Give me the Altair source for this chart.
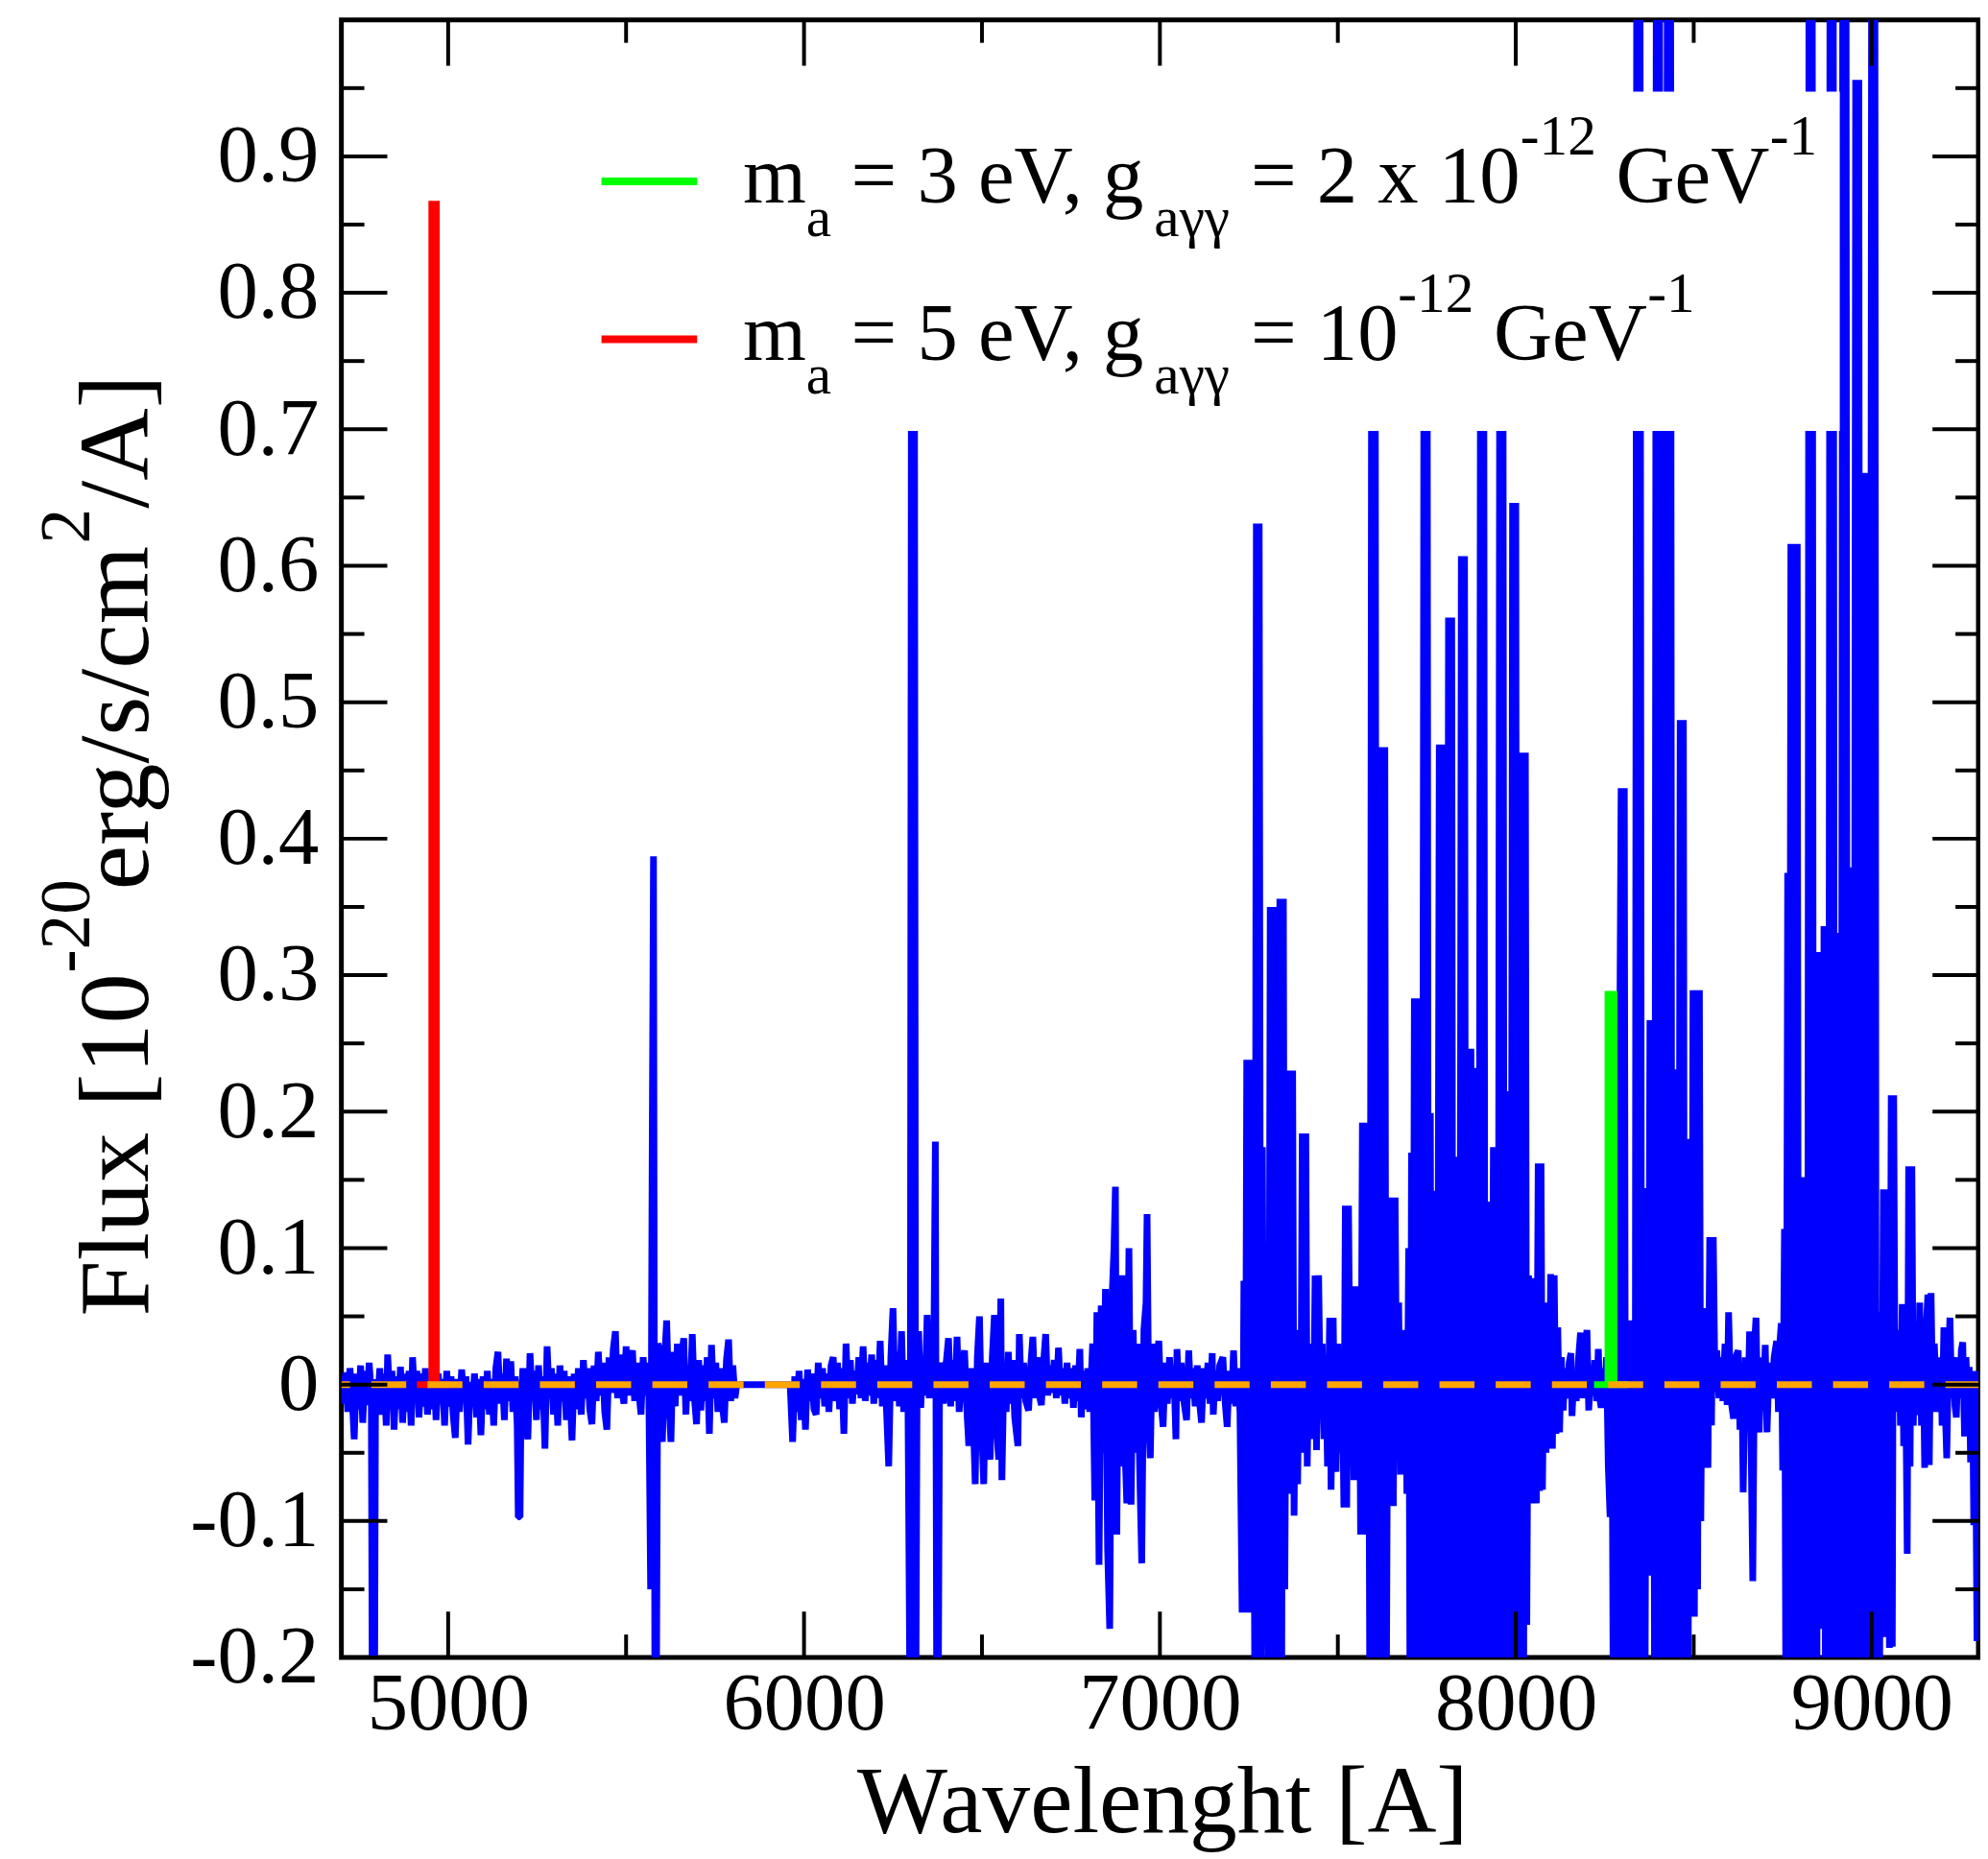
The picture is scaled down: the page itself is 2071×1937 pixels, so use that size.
import altair as alt
import pandas as pd

FONT = "Liberation Serif"

# ---------------- data ----------------
# blue spectrum, (wavelength [A], flux)
seg_a = [
    (4700, 0.006), (4706, -0.014), (4712, 0.009), (4718, -0.020), (4724, 0.012), (4730, -0.008),
    (4736, -0.040), (4742, 0.008), (4748, -0.018), (4754, 0.014), (4760, -0.028), (4766, 0.010),
    (4772, -0.015), (4778, 0.016), (4784, -0.006), (4787, -0.25), (4793, -0.25), (4796, 0.004),
    (4802, -0.012), (4808, 0.012), (4814, -0.022), (4820, 0.008), (4826, -0.030), (4830, 0.022),
    (4836, -0.010), (4842, 0.010), (4848, -0.033), (4854, 0.006), (4860, -0.018), (4866, 0.013),
    (4872, -0.028), (4878, 0.008), (4884, -0.020), (4890, 0.010), (4896, -0.030), (4900, 0.020),
    (4906, -0.012), (4912, 0.010), (4918, -0.024), (4924, 0.008), (4930, -0.016), (4936, 0.012),
    (4942, -0.022), (4948, 0.006), (4954, -0.018), (4960, 0.010), (4966, -0.026), (4972, 0.008),
    (4978, -0.014), (4984, 0.004), (4990, -0.030), (4996, 0.010), (5002, -0.016), (5008, 0.006),
    (5014, -0.022), (5020, -0.039), (5026, 0.004), (5032, -0.020), (5038, 0.011), (5044, -0.012),
    (5050, 0.006), (5056, -0.044), (5062, 0.002), (5068, -0.016), (5074, 0.008), (5080, -0.024),
    (5086, 0.004), (5092, -0.037), (5098, 0.006), (5104, -0.018), (5110, 0.010), (5116, -0.022),
    (5122, 0.004), (5128, -0.030), (5134, 0.012), (5140, 0.024), (5146, -0.014), (5152, 0.008),
    (5158, -0.026), (5164, 0.019), (5170, -0.012), (5176, 0.017), (5182, -0.020), (5188, 0.006),
    (5194, -0.030), (5197, -0.097), (5202, -0.097), (5205, -0.010), (5210, 0.012), (5216, -0.024),
    (5224, -0.040), (5230, 0.023), (5236, -0.010), (5242, 0.010), (5248, -0.026), (5254, 0.014),
    (5260, -0.018), (5266, 0.006), (5272, -0.047), (5278, 0.028), (5284, -0.008), (5290, 0.012),
    (5296, -0.022), (5302, 0.008), (5308, -0.030), (5314, 0.014), (5320, -0.012), (5326, 0.010),
    (5332, -0.026), (5338, 0.006), (5344, -0.016), (5348, -0.041), (5354, 0.008), (5360, -0.018),
    (5366, 0.012), (5374, -0.022), (5380, 0.018), (5386, -0.010), (5392, 0.012), (5398, -0.018),
    (5404, -0.029), (5410, 0.014), (5416, -0.012), (5422, 0.024), (5428, -0.008), (5434, 0.016),
    (5440, -0.020), (5446, -0.033), (5452, 0.020), (5458, -0.006), (5464, 0.026), (5470, 0.039),
    (5476, -0.010), (5482, 0.022), (5488, -0.004), (5494, -0.014), (5500, 0.028), (5506, -0.008),
    (5512, 0.018), (5518, 0.025), (5524, -0.012), (5530, 0.016), (5536, -0.006), (5542, -0.022),
    (5548, 0.020), (5554, -0.008), (5560, 0.016), (5564, -0.010), (5569, -0.150), (5573, 0.150),
    (5577, 0.387), (5581, -0.25), (5585, -0.25), (5589, 0.030), (5594, 0.026), (5602, -0.042),
    (5608, 0.018), (5614, 0.047), (5620, -0.010), (5626, -0.042), (5632, 0.024), (5638, -0.016),
    (5644, 0.030), (5650, -0.008), (5656, 0.020), (5662, 0.034), (5668, -0.022), (5674, 0.014),
    (5680, -0.012), (5686, 0.037), (5692, -0.010), (5698, -0.029), (5704, 0.018), (5710, -0.019),
    (5716, 0.014), (5722, -0.012), (5728, 0.020), (5734, -0.036), (5740, 0.029), (5746, -0.010),
    (5752, 0.016), (5758, -0.020), (5764, 0.012), (5770, -0.014), (5776, -0.028), (5782, 0.018),
    (5788, 0.033), (5794, -0.012), (5800, 0.014), (5806, -0.010), (5811, 0.000),
]
seg_b = [
    (5961, 0.000), (5968, -0.042), (5974, 0.006), (5980, -0.020), (5986, 0.010), (5992, -0.026),
    (5998, 0.004), (6004, -0.033), (6010, 0.011), (6016, -0.012), (6022, 0.008), (6028, -0.018),
    (6034, -0.022), (6040, 0.016), (6046, -0.010), (6052, 0.012), (6058, -0.016), (6064, 0.008),
    (6070, -0.020), (6076, 0.014), (6082, 0.020), (6088, -0.012), (6094, 0.016), (6100, -0.018),
    (6106, 0.012), (6112, -0.036), (6118, 0.030), (6124, -0.010), (6130, 0.018), (6136, -0.014),
    (6142, 0.010), (6148, -0.007), (6154, 0.020), (6160, -0.010), (6166, 0.028), (6172, -0.012),
    (6178, 0.016), (6184, -0.008), (6190, 0.022), (6196, -0.014), (6202, 0.018), (6208, -0.010),
    (6214, 0.032), (6220, -0.016), (6226, 0.014), (6232, -0.020), (6238, -0.060), (6244, 0.020),
    (6250, 0.056), (6256, -0.012), (6262, 0.024), (6268, -0.016), (6274, 0.039), (6280, -0.020),
    (6286, 0.018), (6292, -0.010), (6298, -0.25), (6302, 0.85), (6306, -0.25), (6310, 0.85),
    (6314, -0.25), (6318, 0.020), (6322, 0.039), (6328, -0.017), (6334, 0.020), (6340, -0.008),
    (6346, 0.051), (6352, -0.010), (6358, 0.020), (6364, -0.005), (6369, 0.178), (6373, -0.25),
    (6377, -0.25), (6381, 0.010), (6386, 0.016), (6392, -0.014), (6398, 0.012), (6406, 0.034),
    (6412, -0.016), (6418, 0.018), (6424, -0.012), (6430, 0.035), (6436, -0.020), (6442, 0.010),
    (6451, 0.025), (6457, -0.016), (6463, -0.045), (6469, 0.012), (6475, -0.020), (6481, -0.073),
    (6487, 0.020), (6493, 0.050), (6499, -0.030), (6505, -0.073), (6511, 0.016), (6517, -0.024),
    (6523, -0.055), (6529, 0.020), (6535, 0.051), (6541, -0.030), (6547, -0.055), (6553, 0.063),
    (6556, -0.070), (6562, 0.014), (6568, -0.020), (6574, 0.024), (6580, -0.014), (6586, 0.018),
    (6592, -0.024), (6601, -0.045), (6605, 0.037), (6611, -0.010), (6617, 0.016), (6623, -0.012),
    (6631, -0.019), (6637, 0.014), (6643, 0.035), (6649, -0.010), (6655, 0.020), (6661, -0.008),
    (6667, -0.015), (6673, 0.016), (6679, 0.037), (6685, -0.008), (6691, 0.014), (6697, -0.006),
    (6703, 0.018), (6709, -0.010), (6715, 0.027), (6721, -0.008), (6727, 0.012), (6733, -0.014),
    (6739, 0.016), (6745, -0.010), (6751, 0.012), (6757, -0.017), (6763, 0.014), (6769, -0.012),
    (6775, 0.026), (6779, -0.024), (6785, 0.010), (6791, -0.018), (6797, 0.012), (6803, -0.020),
    (6811, 0.030), (6817, -0.085), (6823, 0.053), (6829, -0.132), (6835, 0.058), (6841, -0.050),
    (6847, 0.070), (6853, -0.120), (6859, -0.179), (6865, 0.060), (6871, 0.100), (6875, 0.145),
    (6879, -0.110), (6883, 0.030), (6889, -0.060), (6895, 0.080), (6901, -0.040), (6907, -0.087),
    (6913, 0.100), (6919, -0.088), (6925, 0.040), (6931, -0.050), (6937, 0.030), (6943, -0.060),
    (6949, -0.131), (6955, 0.040), (6961, 0.060), (6964, 0.125), (6969, -0.030), (6973, -0.054),
    (6979, 0.030), (6985, -0.020), (6991, 0.020), (6997, 0.032), (7003, -0.012), (7009, -0.031),
    (7015, 0.016), (7021, -0.014), (7027, 0.020), (7033, -0.010), (7039, 0.014), (7045, -0.040),
    (7048, 0.026), (7054, -0.012), (7060, 0.016), (7066, -0.010), (7075, -0.026), (7081, 0.025),
    (7087, -0.010), (7093, 0.012), (7099, -0.016), (7105, 0.014), (7111, -0.012), (7117, -0.028),
    (7123, 0.012), (7129, -0.010), (7135, 0.016), (7141, -0.014), (7147, 0.023), (7150, -0.022),
    (7156, 0.010), (7162, -0.012), (7168, 0.014), (7177, 0.020), (7183, -0.012), (7189, -0.031),
    (7195, 0.010), (7201, -0.014), (7207, 0.025), (7213, -0.016), (7219, 0.012),
]
seg_c = [
    (7225, -0.020), (7231, -0.167), (7236, 0.076), (7240, -0.120), (7244, 0.238), (7249, -0.167),
    (7253, 0.238), (7258, -0.080), (7263, 0.040), (7267, -0.25), (7271, 0.631), (7275, -0.25),
    (7279, 0.631), (7284, -0.25), (7288, 0.174), (7292, -0.100), (7296, 0.104), (7300, -0.060),
    (7305, -0.25), (7310, 0.350), (7314, -0.25), (7319, 0.350), (7324, -0.25), (7329, 0.100),
    (7333, -0.25), (7337, 0.356), (7342, -0.25), (7347, 0.356), (7351, -0.150), (7355, 0.047),
    (7359, -0.080), (7364, 0.230), (7368, -0.060), (7373, 0.230), (7377, -0.096), (7382, 0.040),
    (7387, -0.073), (7391, 0.020), (7396, -0.040), (7400, 0.184), (7405, -0.050), (7410, 0.184),
    (7414, -0.060), (7419, 0.030), (7423, -0.040), (7428, 0.020), (7432, -0.030), (7436, 0.080),
    (7440, -0.048), (7446, 0.080), (7451, -0.020), (7456, 0.030), (7461, -0.040), (7466, 0.020),
    (7471, -0.060), (7477, 0.049), (7481, -0.077), (7487, 0.049), (7491, -0.040), (7495, -0.064),
    (7500, 0.030), (7506, -0.050), (7512, 0.020), (7517, -0.090), (7521, 0.131), (7525, -0.090),
    (7530, 0.131), (7535, -0.030), (7540, 0.050), (7545, -0.070), (7550, 0.072), (7555, -0.060),
    (7560, 0.060), (7564, -0.110), (7569, 0.192), (7573, -0.110), (7578, 0.192), (7582, -0.080),
    (7586, 0.088), (7590, -0.25), (7595, 0.80), (7600, -0.25), (7605, 0.80), (7609, -0.25),
    (7613, 0.100), (7617, -0.25), (7622, 0.467), (7627, -0.25), (7632, 0.467), (7636, -0.25),
    (7641, 0.064), (7646, -0.060), (7651, 0.137), (7656, -0.089), (7661, 0.137), (7666, -0.040),
    (7671, 0.060), (7676, -0.066), (7681, 0.040), (7686, -0.050), (7690, 0.020), (7694, -0.080),
    (7699, 0.100), (7703, -0.25), (7707, 0.170), (7711, -0.190), (7715, 0.283), (7719, -0.25),
    (7724, 0.283), (7728, -0.25), (7733, 0.058), (7737, -0.25), (7742, 0.80), (7746, -0.25),
    (7751, 0.80), (7755, -0.25), (7760, 0.199), (7764, -0.25), (7768, 0.142), (7772, -0.25),
    (7776, 0.142), (7780, -0.135), (7785, 0.469), (7789, -0.25), (7794, 0.469), (7798, -0.25),
    (7802, 0.183), (7806, -0.25), (7811, 0.562), (7815, -0.25), (7820, 0.562), (7824, -0.25),
    (7829, 0.167), (7833, -0.25), (7838, 0.167), (7842, -0.25), (7847, 0.607), (7851, -0.25),
    (7856, 0.607), (7860, -0.25), (7865, 0.246), (7869, -0.25), (7874, 0.246), (7878, -0.25),
    (7883, 0.232), (7887, -0.140), (7892, 0.232), (7896, -0.25), (7901, 0.80), (7905, -0.25),
    (7910, 0.80), (7914, -0.25), (7919, 0.134), (7923, -0.25), (7928, 0.134), (7932, -0.25),
    (7937, 0.174), (7941, -0.103), (7946, 0.174), (7950, -0.25), (7955, 0.80), (7959, -0.25),
    (7964, 0.80), (7968, -0.25), (7973, 0.215), (7977, -0.25), (7982, 0.215), (7986, -0.25),
    (7991, 0.646), (7995, -0.25), (8000, 0.646), (8004, -0.25), (8009, 0.098), (8013, -0.176),
    (8018, 0.463), (8022, -0.25), (8027, 0.463), (8031, -0.176), (8036, 0.080), (8040, -0.060),
    (8044, 0.078), (8048, -0.087), (8053, 0.060), (8058, -0.087), (8063, 0.162), (8067, -0.078),
    (8071, 0.162), (8075, -0.077), (8080, 0.040), (8085, -0.050), (8090, 0.060), (8094, -0.047),
    (8098, 0.081), (8103, -0.047), (8108, 0.080), (8113, -0.036), (8118, 0.042), (8123, -0.035),
    (8128, 0.020),
]
seg_d = [
    (8133, -0.019), (8139, 0.012), (8145, -0.010), (8150, 0.016), (8155, 0.023), (8158, -0.023),
    (8164, 0.010), (8170, -0.012), (8176, 0.018), (8182, 0.038), (8187, -0.010), (8193, 0.020),
    (8200, 0.040), (8205, -0.019), (8211, 0.014), (8217, -0.008), (8222, 0.018), (8227, -0.012),
    (8232, 0.026), (8236, -0.010), (8240, -0.017), (8245, 0.012), (8250, -0.010), (8255, 0.020),
    (8260, -0.060), (8265, -0.097), (8270, 0.030), (8274, -0.25), (8278, 0.200), (8283, 0.239),
    (8287, -0.25), (8292, 0.239), (8296, 0.437), (8300, -0.25), (8305, 0.437), (8309, -0.25),
    (8314, 0.047), (8318, -0.054), (8322, 0.047), (8326, -0.25), (8331, 0.040), (8335, -0.25),
    (8340, 1.1), (8344, -0.25), (8349, 1.1), (8354, -0.25), (8359, 0.144), (8363, -0.25),
    (8368, 0.144), (8372, -0.140), (8377, 0.267), (8381, -0.130), (8386, 0.267), (8390, -0.25),
    (8395, 1.1), (8399, -0.25), (8404, 1.1), (8408, -0.25), (8413, 0.295), (8417, -0.25),
    (8422, 0.295), (8426, 1.1), (8430, -0.25), (8435, 1.1), (8439, -0.25), (8444, 0.231),
    (8448, -0.25), (8453, 0.231), (8457, -0.25), (8462, 0.487), (8466, -0.25), (8471, 0.487),
    (8475, -0.25), (8480, 0.180), (8484, -0.25), (8489, 0.180), (8493, -0.170), (8498, 0.289),
    (8502, -0.170), (8507, 0.289), (8511, -0.150), (8516, 0.289), (8520, -0.100), (8524, 0.050),
    (8527, -0.005), (8531, 0.056), (8536, -0.030), (8540, -0.061), (8545, 0.108), (8550, -0.030),
    (8555, 0.108), (8560, -0.005),
]
seg_e = [
    (8565, 0.025), (8571, -0.010), (8576, 0.020), (8582, -0.012), (8588, 0.030), (8594, -0.015),
    (8598, 0.053), (8604, -0.010), (8612, -0.025), (8618, 0.020), (8625, 0.025), (8630, -0.033),
    (8635, 0.016), (8639, -0.079), (8645, 0.020), (8651, -0.030), (8657, 0.039), (8662, -0.060),
    (8666, -0.144), (8671, 0.030), (8675, 0.049), (8680, -0.020), (8684, -0.035), (8690, 0.020),
    (8696, -0.012), (8701, 0.029), (8706, -0.035), (8712, 0.016), (8719, -0.010), (8726, 0.020),
    (8733, 0.032), (8738, -0.020), (8742, 0.030), (8746, 0.045), (8750, -0.063),
]
seg_f = [
    (8755, 0.114), (8759, -0.25), (8764, 0.375), (8768, -0.25), (8773, 0.616), (8777, -0.25),
    (8782, 0.616), (8786, -0.25), (8791, 0.616), (8795, -0.25), (8799, 0.152), (8803, -0.120),
    (8807, 0.152), (8811, -0.25), (8816, 0.050), (8820, -0.25), (8824, 1.1), (8829, -0.25),
    (8833, 1.1), (8837, -0.25), (8842, 0.317), (8846, -0.25), (8850, 0.317), (8854, -0.179),
    (8858, 0.150), (8862, -0.179), (8866, 0.336), (8870, -0.25), (8875, 0.336), (8879, -0.25),
    (8883, 1.1), (8888, -0.25), (8892, 1.1), (8896, -0.25), (8901, 0.331), (8905, -0.25),
    (8910, 0.331), (8914, -0.25), (8919, 1.1), (8923, -0.25), (8928, 1.1), (8932, -0.25),
    (8937, 0.379), (8941, -0.25), (8946, 0.379), (8950, -0.25), (8955, 0.956), (8959, -0.25),
    (8964, 0.956), (8968, -0.25), (8973, 0.200), (8977, -0.25), (8982, 0.668), (8986, -0.25),
    (8991, 0.668), (8995, -0.25), (9000, 1.1), (9004, -0.25), (9009, 1.1), (9013, -0.25),
    (9018, 0.051), (9022, -0.25), (9026, 0.053), (9028, -0.123), (9033, 0.143), (9037, -0.185),
    (9042, 0.143), (9046, 0.039), (9050, -0.193), (9055, 0.212), (9058, -0.192), (9062, 0.212),
    (9066, -0.020), (9069, 0.032), (9073, -0.015), (9077, 0.040), (9081, -0.030), (9086, 0.059),
    (9090, -0.045), (9095, 0.020), (9100, -0.124), (9104, 0.160), (9108, -0.060), (9113, 0.160),
    (9117, -0.030), (9122, 0.035), (9126, -0.020), (9131, -0.020), (9135, 0.060), (9140, -0.030),
    (9145, 0.030), (9149, -0.061), (9153, 0.040), (9158, 0.066), (9162, -0.059), (9167, 0.067),
    (9172, -0.020), (9176, 0.030), (9180, 0.007), (9185, -0.020), (9189, -0.010), (9194, 0.020),
    (9198, -0.030), (9203, 0.042), (9207, -0.020), (9211, -0.054), (9216, 0.020), (9220, 0.049),
    (9225, -0.010), (9229, 0.020), (9234, -0.015), (9238, -0.024), (9243, 0.020), (9247, -0.010),
    (9252, 0.025), (9256, 0.031), (9261, -0.038), (9265, 0.020), (9270, -0.010), (9274, 0.013),
    (9278, -0.057), (9283, 0.010), (9287, -0.103), (9291, 0.010), (9296, -0.188), (9300, -0.040),
]

# model lines
green_wl = [8220, 8259, 8259, 8276, 8276, 8316]
green_fx = [0.0, 0.0, 0.286, 0.286, 0.0, 0.0]
red_wl = [4912, 4954, 4954, 4967, 4967, 5008]
red_fx = [0.0, 0.0, 0.865, 0.865, 0.0, 0.0]
zero_wl = [4700, 9300]
zero_fx = [0.0, 0.0]

# axes
x_major = [5000, 6000, 7000, 8000, 9000]
x_minor = [5500, 6500, 7500, 8500]
y_major = [-0.2, -0.1, 0.0, 0.1, 0.2, 0.3, 0.4, 0.5, 0.6, 0.7, 0.8, 0.9]
y_minor = [-0.15, -0.05, 0.05, 0.15, 0.25, 0.35, 0.45, 0.55, 0.65, 0.75, 0.85, 0.95]

# ---------------- layout ----------------
W, H = 1712, 1713
MAJ, MIN = 48, 24

xs = alt.Scale(domain=[4700, 9300], nice=False, zero=False)
ys = alt.Scale(domain=[-0.2, 1.0], nice=False, zero=False)

y_label_expr = ("datum.value == 0 ? '0' : (datum.value < 0 ? '-' : '') + "
                "format(abs(datum.value), '.1f')")

AX_X = alt.Axis(values=x_major, format="d", title=None, ticks=False, domain=False, grid=False,
                labelFont=FONT, labelFontSize=85, labelColor="black", labelPadding=8,
                labelOverlap=False, labelFlush=False)
AX_Y = alt.Axis(values=y_major, labelExpr=y_label_expr, title=None, ticks=False, domain=False,
                grid=False, labelFont=FONT, labelFontSize=85, labelColor="black",
                labelPadding=24, labelOverlap=False, labelFlush=False)


def frame(wl, fx):
    return pd.DataFrame({"wl": wl, "flux": fx, "i": list(range(len(wl)))})


blue_pairs = seg_a + seg_b + seg_c + seg_d + seg_e + seg_f
blue_df = frame([p[0] for p in blue_pairs], [p[1] for p in blue_pairs])


def spec_line(df, color, width, **kw):
    return alt.Chart(df).mark_line(clip=True, color=color, strokeWidth=width, **kw).encode(
        x=alt.X("wl:Q", scale=xs, axis=AX_X),
        y=alt.Y("flux:Q", scale=ys, axis=AX_Y),
        order="i:Q",
    )


blue = spec_line(blue_df, "#0000ff", 7, strokeJoin="bevel")
green = spec_line(frame(green_wl, green_fx), "#00ff00", 7, strokeJoin="miter")
red = spec_line(frame(red_wl, red_fx), "#ff0000", 7, strokeJoin="miter")
orange = spec_line(frame(zero_wl, zero_fx), "#ffa500", 7,
                   strokeDash=[36.6, 22.2], strokeDashOffset=27.6)

one = pd.DataFrame({"k": [0]})

legend_box = alt.Chart(one).mark_rect(color="white").encode(
    x=alt.value(243), x2=alt.value(1567), y=alt.value(75), y2=alt.value(430)
)


def hline(x1, x2, y, color, width):
    return alt.Chart(one).mark_rule(color=color, strokeWidth=width).encode(
        x=alt.value(x1), x2=alt.value(x2), y=alt.value(y)
    )


leg_green = hline(272, 372, 169, "#00ff00", 8)
leg_red = hline(272, 372, 334, "#ff0000", 8)

# ticks (inside the frame, on all four sides)
xmaj_df = pd.DataFrame({"v": x_major})
xmin_df = pd.DataFrame({"v": x_minor})
ymaj_df = pd.DataFrame({"v": y_major})
ymin_df = pd.DataFrame({"v": y_minor})


def xticks(df, length):
    base = alt.Chart(df).mark_rule(color="black", strokeWidth=4)
    enc_x = alt.X("v:Q", scale=xs, axis=AX_X)
    return [
        base.encode(x=enc_x, y=alt.value(H - length), y2=alt.value(H)),
        base.encode(x=enc_x, y=alt.value(0), y2=alt.value(length)),
    ]


def yticks(df, length):
    base = alt.Chart(df).mark_rule(color="black", strokeWidth=4)
    enc_y = alt.Y("v:Q", scale=ys, axis=AX_Y)
    return [
        base.encode(y=enc_y, x=alt.value(0), x2=alt.value(length)),
        base.encode(y=enc_y, x=alt.value(W - length), x2=alt.value(W)),
    ]


tick_layers = xticks(xmaj_df, MAJ) + xticks(xmin_df, MIN) + yticks(ymaj_df, MAJ) + yticks(ymin_df, MIN)


def txt(s, x, y, size, angle=0, align="left"):
    return alt.Chart(one).mark_text(
        text=s, font=FONT, fontSize=size, color="black", align=align,
        baseline="alphabetic", angle=angle
    ).encode(x=alt.value(x), y=alt.value(y))


BIG, SMALL = 85, 59.5
texts = [
    # legend row 1
    txt("m", 420, 191, BIG), txt("a", 486, 226, SMALL),
    txt("= 3 eV, g", 533, 191, BIG), txt("aγγ", 850, 226, SMALL),
    txt("= 2 x 10", 951, 191, BIG), txt("-12", 1233, 141, SMALL),
    txt("GeV", 1333, 191, BIG), txt("-1", 1494, 141, SMALL),
    # legend row 2
    txt("m", 420, 356, BIG), txt("a", 486, 391, SMALL),
    txt("= 5 eV, g", 533, 356, BIG), txt("aγγ", 850, 391, SMALL),
    txt("= 10", 951, 356, BIG), txt("-12", 1105, 305, SMALL),
    txt("GeV", 1205, 356, BIG), txt("-1", 1366, 305, SMALL),
    # x title
    txt("Wavelenght [A]", 859, 1896, 100, align="center"),
    # y title (rotated)
    txt("Flux [10", -202, 1356, 105, angle=270),
    txt("-20", -264, 997, 73.5, angle=270),
    txt("erg/s/cm", -202, 910, 105, angle=270),
    txt("2", -264, 548, 73.5, angle=270),
    txt("/A]", -202, 511, 105, angle=270),
]

chart = alt.layer(
    blue, green, red, orange, legend_box, *tick_layers, leg_green, leg_red, *texts
).properties(
    width=W, height=H,
    padding={"left": 349, "top": 9, "right": 2, "bottom": 206},
    autosize=alt.AutoSizeParams(type="none"),
).configure_view(stroke="black", strokeWidth=5)

chart.save("out.html", embed_options={"renderer": "svg", "actions": False})
